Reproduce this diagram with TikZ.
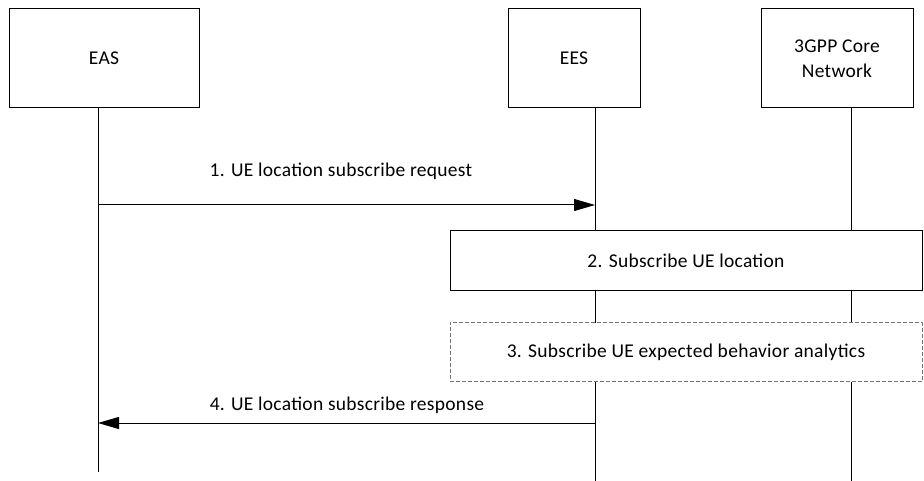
\documentclass[tikz,border=0pt]{standalone}
\usepackage{fontspec}
\setmainfont{Carlito}[LetterSpace=1.5]
\usetikzlibrary{arrows.meta, positioning}

\begin{document}
\begin{tikzpicture}[
  x=1pt, y=-1pt,
  font=\fontsize{19.5}{25}\selectfont,
  entity/.style={rectangle, draw, line width=1pt, minimum height=99pt, align=center, inner sep=0pt},
  stepbox/.style={rectangle, draw, line width=1pt, minimum width=472pt, minimum height=59pt},
  optbox/.style={stepbox, draw=black!55, dash pattern=on 4pt off 2pt},
  lifeline/.style={line width=1pt},
  msg/.style={line width=1pt, -{Triangle[length=21pt, width=12pt]}}
]
  \useasboundingbox (0,0) rectangle (924,481);

  % entities
  \node[entity, minimum width=190pt] (eas) at (104,58.5) {EAS};
  \node[entity, minimum width=132pt] (ees) at (574,58.5) {EES};
  \node[entity, minimum width=152pt] (cn) at (837,58.5) {3GPP Core\\Network};

  % lifeline ends
  \coordinate (easend) at (98,472);
  \coordinate (eesend) at (595,481);
  \coordinate (cnend) at (851,481);

  \draw[lifeline] (98,108) -- (easend);
  \draw[lifeline] (595,108) -- (eesend);
  \draw[lifeline] (851,108) -- (cnend);

  % steps
  \node[stepbox, fill=white] (sub) at (686,260.5) {2. Subscribe UE location};
  \node[optbox, fill=white] (ana) at (686,352) {3. Subscribe UE expected behavior analytics};

  % messages
  \coordinate (req1) at (98,205);
  \coordinate (req2) at (595,205);
  \coordinate (rsp1) at (595,423);
  \coordinate (rsp2) at (98,423);

  \draw[msg] (req1) -- (req2);
  \node (reqlbl) at (341,171) {1. UE location subscribe request};

  \draw[msg] (rsp1) -- (rsp2);
  \node (rsplbl) at (347,405) {4. UE location subscribe response};

\end{tikzpicture}
\end{document}
